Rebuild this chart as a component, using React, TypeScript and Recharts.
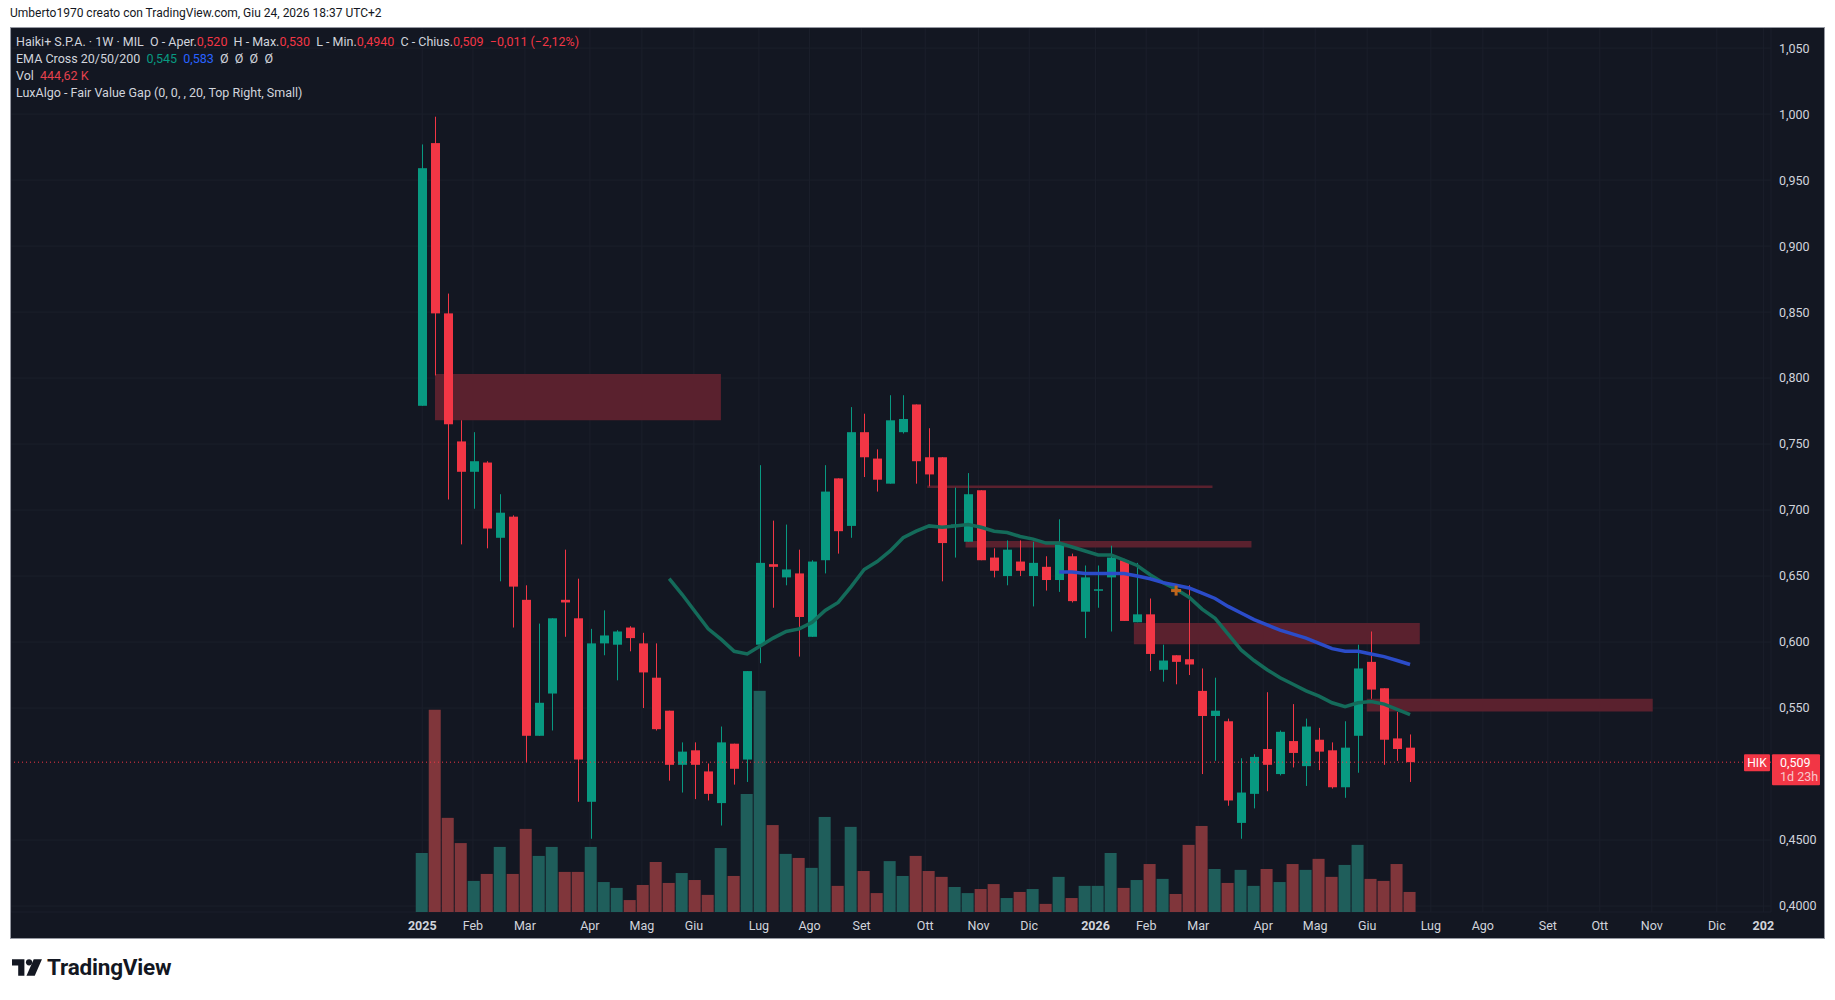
import React from "react";
import {
  Bar,
  CartesianGrid,
  ComposedChart,
  Line,
  ReferenceArea,
  ReferenceDot,
  ReferenceLine,
  XAxis,
  YAxis,
} from "recharts";

// weekly candles, Haiki+ S.P.A. (MIL), one entry per week
const opens = [
  0.779, 0.978, 0.849, 0.752, 0.729, 0.736, 0.679, 0.695, 0.632, 0.529,
  0.561, 0.632, 0.618, 0.479, 0.599, 0.598, 0.611, 0.599, 0.573, 0.548,
  0.507, 0.518, 0.502, 0.478, 0.523, 0.511, 0.598, 0.659, 0.649, 0.652,
  0.604, 0.662, 0.724, 0.688, 0.759, 0.739, 0.72, 0.759, 0.78, 0.74,
  0.74, 0.688, 0.676, 0.715, 0.664, 0.65, 0.661, 0.65, 0.657, 0.647,
  0.665, 0.623, 0.639, 0.649, 0.662, 0.615, 0.621, 0.579, 0.59, 0.587,
  0.563, 0.544, 0.54, 0.463, 0.485, 0.519, 0.5, 0.525, 0.506, 0.526,
  0.518, 0.49, 0.529, 0.585, 0.565, 0.527, 0.52,
];
const highs = [
  0.977, 0.998, 0.864, 0.768, 0.759, 0.737, 0.712, 0.696, 0.643, 0.614,
  0.618, 0.67, 0.648, 0.61, 0.624, 0.609, 0.612, 0.607, 0.599, 0.548,
  0.524, 0.524, 0.508, 0.536, 0.523, 0.578, 0.734, 0.692, 0.689, 0.67,
  0.662, 0.734, 0.724, 0.778, 0.773, 0.746, 0.787, 0.787, 0.78, 0.762,
  0.74, 0.717, 0.728, 0.715, 0.671, 0.677, 0.677, 0.676, 0.665, 0.693,
  0.667, 0.658, 0.658, 0.673, 0.663, 0.66, 0.633, 0.598, 0.59, 0.643,
  0.58, 0.573, 0.542, 0.512, 0.515, 0.562, 0.533, 0.553, 0.542, 0.535,
  0.524, 0.54, 0.598, 0.608, 0.565, 0.547, 0.53,
];
const lows = [
  0.779, 0.802, 0.708, 0.674, 0.701, 0.671, 0.646, 0.611, 0.509, 0.529,
  0.533, 0.604, 0.479, 0.451, 0.59, 0.571, 0.593, 0.55, 0.533, 0.495,
  0.486, 0.481, 0.48, 0.461, 0.492, 0.494, 0.584, 0.626, 0.643, 0.589,
  0.604, 0.652, 0.667, 0.679, 0.725, 0.714, 0.72, 0.758, 0.72, 0.718,
  0.646, 0.664, 0.676, 0.662, 0.649, 0.643, 0.65, 0.627, 0.639, 0.638,
  0.63, 0.603, 0.626, 0.608, 0.616, 0.615, 0.578, 0.57, 0.568, 0.575,
  0.5, 0.51, 0.476, 0.451, 0.474, 0.487, 0.499, 0.505, 0.491, 0.503,
  0.489, 0.482, 0.501, 0.557, 0.507, 0.51, 0.494,
];
const closes = [
  0.959, 0.849, 0.765, 0.729, 0.737, 0.686, 0.698, 0.642, 0.529, 0.554,
  0.618, 0.63, 0.511, 0.599, 0.605, 0.608, 0.603, 0.577, 0.534, 0.507,
  0.517, 0.507, 0.485, 0.524, 0.504, 0.578, 0.66, 0.657, 0.655, 0.619,
  0.661, 0.714, 0.684, 0.759, 0.74, 0.723, 0.768, 0.769, 0.737, 0.727,
  0.675, 0.689, 0.712, 0.662, 0.654, 0.67, 0.654, 0.66, 0.647, 0.674,
  0.631, 0.649, 0.64, 0.664, 0.616, 0.621, 0.591, 0.586, 0.585, 0.583,
  0.544, 0.548, 0.48, 0.486, 0.513, 0.507, 0.532, 0.516, 0.536, 0.517,
  0.49, 0.52, 0.58, 0.564, 0.526, 0.519, 0.509,
];
// volume in thousands of shares
const volumes = [
  1310, 4490, 2090, 1530, 690, 845, 1445, 845, 1845, 1245,
  1445, 890, 890, 1445, 665, 535, 265, 600, 1110, 645,
  865, 710, 380, 1420, 800, 2620, 4910, 1930, 1290, 1200,
  980, 2110, 580, 1890, 910, 420, 1130, 800, 1245, 910,
  780, 555, 420, 510, 620, 310, 445, 510, 180, 780,
  310, 580, 580, 1310, 535, 710, 1065, 735, 400, 1490,
  1910, 955, 645, 935, 580, 955, 665, 1065, 935, 1180,
  780, 1045, 1490, 735, 690, 1065, 445,
];
// EMA 20 starts on week 20, EMA 50 on week 50
const ema20 = [
  0.648, 0.636, 0.623, 0.61, 0.602, 0.593, 0.591, 0.597, 0.603, 0.608,
  0.61, 0.615, 0.624, 0.63, 0.642, 0.655, 0.661, 0.669, 0.679, 0.684,
  0.688, 0.687, 0.688, 0.689, 0.687, 0.684, 0.683, 0.68, 0.678, 0.675,
  0.675, 0.672, 0.669, 0.666, 0.666, 0.662, 0.658, 0.651, 0.645, 0.64,
  0.634, 0.625, 0.618, 0.606, 0.594, 0.586, 0.579, 0.573, 0.568, 0.563,
  0.559, 0.554, 0.551, 0.554, 0.555, 0.553, 0.549, 0.545,
];
const ema50 = [
  0.653, 0.653, 0.652, 0.652, 0.652, 0.652, 0.65, 0.648, 0.645, 0.643,
  0.641, 0.637, 0.633, 0.627, 0.622, 0.617, 0.613, 0.609, 0.606, 0.603,
  0.599, 0.595, 0.593, 0.593, 0.591, 0.589, 0.586, 0.583,
];

// LuxAlgo fair value gaps (bearish)
const fvgFrom = [0.98, 38.85, 41.8, 54.75, 72.67];
const fvgTo = [22.98, 60.8, 63.8, 76.75, 94.67];
const fvgTop = [0.803, 0.7186, 0.6765, 0.6145, 0.5571];
const fvgBottom = [0.768, 0.7168, 0.6717, 0.5983, 0.5473];

const monthTicks = [
  0, 3.9, 7.9, 12.9, 16.9, 20.9, 25.9, 29.8, 33.8, 38.7, 42.8, 46.7, 51.8,
  55.7, 59.7, 64.7, 68.7, 72.7, 77.6, 81.6, 86.6, 90.6, 94.6, 99.6, 103.2,
];
const monthLabels = [
  "2025", "Feb", "Mar", "Apr", "Mag", "Giu", "Lug", "Ago", "Set", "Ott", "Nov", "Dic", "2026",
  "Feb", "Mar", "Apr", "Mag", "Giu", "Lug", "Ago", "Set", "Ott", "Nov", "Dic", "202",
];
const priceTicks = [0.4, 0.45, 0.55, 0.6, 0.65, 0.7, 0.75, 0.8, 0.85, 0.9, 0.95, 1.0, 1.05];

const markerWeek = 58;
const markerPrice = 0.639;
const lastClose = 0.509;

const UP = "#089981";
const DOWN = "#f23645";
const VOL_UP = "#1f5e5b";
const VOL_DOWN = "#80363b";
const TEXT = "#d1d4dc";
const FONT = "Roboto, 'Noto Sans', sans-serif";

const X_DOMAIN: [number, number] = [-31.64, 103.77];
const Y_DOMAIN: [number, number] = [0.3955, 1.0652];
const VOL_MAX = 19625;

const data = opens.map((o, i) => ({
  i,
  open: o,
  high: highs[i],
  low: lows[i],
  close: closes[i],
  vol: volumes[i],
  ema20: i >= 19 ? ema20[i - 19] : null,
  ema50: i >= 49 ? ema50[i - 49] : null,
}));

const fmtPrice = (v: number) => {
  const s = v < 0.5 ? v.toFixed(4) : v.toFixed(3);
  return s.replace(".", ",");
};

function Candle(props: any) {
  const { x, y, width, height, payload } = props;
  if (x == null || y == null || !payload) return null;
  const top = Math.min(y, y + height);
  const bot = Math.max(y, y + height);
  const range = payload.high - payload.low || 1;
  const py = (p: number) => top + ((payload.high - p) / range) * (bot - top);
  const up = payload.close >= payload.open;
  const color = up ? UP : DOWN;
  const cx = Math.round(x + width / 2) + 0.5;
  const bTop = py(Math.max(payload.open, payload.close));
  const bBot = py(Math.min(payload.open, payload.close));
  return (
    <g>
      <line x1={cx} x2={cx} y1={top} y2={bot} stroke={color} strokeWidth={1} />
      <rect x={cx - 4.5} y={bTop} width={9} height={Math.max(1.5, bBot - bTop)} fill={color} />
    </g>
  );
}

function VolBar(props: any) {
  const { x, y, width, height, payload } = props;
  if (x == null || !payload) return null;
  return (
    <rect
      x={x}
      y={y}
      width={width}
      height={Math.max(0, height)}
      fill={payload.close >= payload.open ? VOL_UP : VOL_DOWN}
    />
  );
}

function TimeTick(props: any) {
  const { x, y, payload } = props;
  const idx = monthTicks.indexOf(payload.value);
  const label = monthLabels[idx] ?? "";
  const isYear = /^20/.test(label);
  return (
    <text
      x={x}
      y={y + 10}
      textAnchor={label === "202" ? "start" : "middle"}
      dx={label === "202" ? -11 : 0}
      fill={TEXT}
      fontSize={12.5}
      fontWeight={isYear ? 700 : 400}
      fontFamily={FONT}
    >
      {label}
    </text>
  );
}

function Plus(props: any) {
  const { cx, cy } = props;
  if (cx == null) return null;
  return (
    <g fill="#c0661c">
      <rect x={cx - 5} y={cy - 1.5} width={10} height={3} />
      <rect x={cx - 1.5} y={cy - 5} width={3} height={10} />
    </g>
  );
}

function PriceTag(props: any) {
  const vb = props.viewBox;
  if (!vb) return null;
  const right = vb.x + vb.width;
  const y = vb.y;
  return (
    <g fontFamily={FONT}>
      <rect x={right - 27} y={y - 8} width={26} height={17} fill={DOWN} rx={1} />
      <text x={right - 14} y={y + 4.5} textAnchor="middle" fill="#fff" fontSize={12}>
        HIK
      </text>
      <rect x={right + 1} y={y - 8} width={48} height={31} fill={DOWN} rx={1} />
      <text x={right + 9} y={y + 4.5} fill="#fff" fontSize={12.5}>
        {fmtPrice(lastClose)}
      </text>
      <text x={right + 9} y={y + 18.5} fill="#f8c7cb" fontSize={12.5}>
        1d 23h
      </text>
    </g>
  );
}

function Legend() {
  const line: React.CSSProperties = { height: 17, whiteSpace: "pre" };
  const red = { color: "#f23645" };
  return (
    <div
      style={{
        position: "absolute",
        left: 5,
        top: 5,
        fontSize: 12.5,
        color: TEXT,
        fontFamily: FONT,
        lineHeight: "17px",
        zIndex: 2,
      }}
    >
      <div style={line}>
        {"Haiki+ S.P.A. · 1W · MIL  O - Aper."}
        <span style={red}>0,520</span>
        {"  H - Max."}
        <span style={red}>0,530</span>
        {"  L - Min."}
        <span style={red}>0,4940</span>
        {"  C - Chius."}
        <span style={red}>0,509</span>
        <span style={red}>{"  −0,011 (−2,12%)"}</span>
      </div>
      <div style={line}>
        {"EMA Cross 20/50/200  "}
        <span style={{ color: "#089981" }}>0,545</span>
        {"  "}
        <span style={{ color: "#2962ff" }}>0,583</span>
        {"  Ø  Ø  Ø  Ø"}
      </div>
      <div style={line}>
        {"Vol  "}
        <span style={{ color: "#e5414d" }}>444,62 K</span>
      </div>
      <div style={line}>LuxAlgo - Fair Value Gap (0, 0, , 20, Top Right, Small)</div>
    </div>
  );
}

export default function App() {
  return (
    <div
      style={{
        position: "absolute",
        left: 0,
        top: 0,
        width: 1835,
        height: 1000,
        background: "#ffffff",
        fontFamily: FONT,
        overflow: "hidden",
      }}
    >
      <div style={{ position: "absolute", left: 10, top: 6, fontSize: 12, color: "#131722" }}>
        Umberto1970 creato con TradingView.com, Giu 24, 2026 18:37 UTC+2
      </div>
      <div
        style={{
          position: "absolute",
          left: 10,
          top: 27,
          width: 1813,
          height: 910,
          background: "#131722",
          border: "1px solid #9598a1",
        }}
      >
        <Legend />
        <div style={{ position: "absolute", left: 0, top: 0 }}>
          <ComposedChart
            width={1813}
            height={910}
            data={data}
            margin={{ top: 0, right: 0, bottom: 0, left: 0 }}
          >
            <CartesianGrid
              xAxisId="main"
              yAxisId="price"
              stroke="#1b1f2b"
              strokeWidth={1}
            />
            <XAxis
              xAxisId="main"
              dataKey="i"
              type="number"
              domain={X_DOMAIN}
              allowDataOverflow
              ticks={monthTicks}
              interval={0}
              tick={<TimeTick />}
              tickLine={false}
              axisLine={false}
              height={26}
            />
            <XAxis
              xAxisId="vx"
              dataKey="i"
              type="number"
              domain={X_DOMAIN}
              allowDataOverflow
              hide
            />
            <YAxis
              yAxisId="price"
              orientation="right"
              type="number"
              domain={Y_DOMAIN}
              allowDataOverflow
              ticks={priceTicks}
              interval={0}
              tickFormatter={fmtPrice}
              tick={{ fill: TEXT, fontSize: 12.5, fontFamily: FONT, textAnchor: "start" }}
              tickLine={false}
              axisLine={false}
              width={53}
            />
            <YAxis yAxisId="vol" type="number" domain={[0, VOL_MAX]} allowDataOverflow hide />
            {fvgFrom.map((x1, k) => (
              <ReferenceArea
                key={"fvg" + k}
                xAxisId="main"
                yAxisId="price"
                x1={x1}
                x2={fvgTo[k]}
                y1={fvgBottom[k]}
                y2={fvgTop[k]}
                fill="#5a212e"
                fillOpacity={1}
                stroke="none"
              />
            ))}
            <Bar
              xAxisId="vx"
              yAxisId="vol"
              dataKey="vol"
              barSize={12}
              shape={<VolBar />}
              isAnimationActive={false}
            />
            <Line
              xAxisId="main"
              yAxisId="price"
              dataKey="ema20"
              stroke="#146b5a"
              strokeWidth={3.5}
              dot={false}
              activeDot={false}
              isAnimationActive={false}
            />
            <Line
              xAxisId="main"
              yAxisId="price"
              dataKey="ema50"
              stroke="#2b4cc9"
              strokeWidth={3.5}
              dot={false}
              activeDot={false}
              isAnimationActive={false}
            />
            <ReferenceLine
              xAxisId="main"
              yAxisId="price"
              y={lastClose}
              stroke={DOWN}
              strokeDasharray="1 3"
              label={(p: any) => <PriceTag {...p} />}
            />
            <Bar
              xAxisId="main"
              yAxisId="price"
              dataKey={(d: any) => [d.low, d.high]}
              barSize={9}
              shape={<Candle />}
              isAnimationActive={false}
            />
            <ReferenceDot
              xAxisId="main"
              yAxisId="price"
              x={markerWeek}
              y={markerPrice}
              shape={<Plus />}
            />
          </ComposedChart>
        </div>
      </div>
      <div style={{ position: "absolute", left: 12, top: 954, display: "flex", alignItems: "center" }}>
        <svg width={31} height={19} viewBox="0 0 30 18">
          <path d="M0 1 H12 V17 H6 V7 H0 Z" fill="#131722" />
          <circle cx={16.5} cy={4} r={3} fill="#131722" />
          <path d="M21 1 H29 L22 17 H14 Z" fill="#131722" />
        </svg>
        <span style={{ marginLeft: 4, fontSize: 22.5, fontWeight: 700, color: "#131722", letterSpacing: -0.2 }}>
          TradingView
        </span>
      </div>
    </div>
  );
}
